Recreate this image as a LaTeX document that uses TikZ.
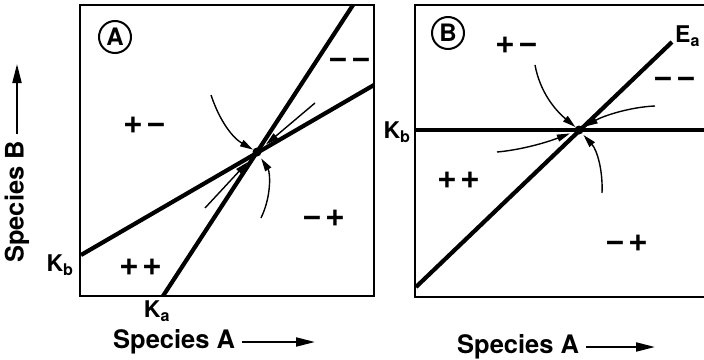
\documentclass[tikz,border=0pt]{standalone}
\usepackage{fontspec}
\setmainfont{TeX Gyre Heros}
\usetikzlibrary{arrows.meta,positioning}

\begin{document}
\begin{tikzpicture}[
  x=1pt, y=-1pt,
  frame/.style={line width=2pt},
  isocline/.style={line width=4.2pt},
  flow/.style={line width=1.4pt, -{Triangle[length=13pt,width=7pt]}},
  axis/.style={line width=2pt, -{Triangle[length=19pt,width=9pt]}},
  sign/.style={font=\fontsize{34}{34}\selectfont\bfseries, inner sep=0pt},
  klabel/.style={font=\fontsize{23}{23}\selectfont\bfseries, inner sep=0pt},
  title/.style={font=\fontsize{25.5}{26}\selectfont\bfseries, inner sep=0pt},
  eq/.style={circle, fill, inner sep=0pt, minimum size=9pt},
  panel/.style={draw, circle, line width=2pt, inner sep=0pt, minimum size=32pt,
    font=\fontsize{24}{24}\selectfont\bfseries}
]
\useasboundingbox (0,0) rectangle (704,359);

% panel A
\draw[frame] (80,5) rectangle (374,296);
\coordinate (KaA) at (163,296);
\coordinate (topA) at (353,5);
\coordinate (KbA) at (81,255);
\coordinate (rightA) at (374,85);
\draw[isocline] (KaA) -- (topA);
\draw[isocline] (KbA) -- (rightA);
\node[eq] (eqA) at (257,152) {};

\node[panel] (circA) at (115,37) {A};
\node[sign] (pmA) at (145,125) {+\kern3pt−};
\node[sign] (mmA) at (350,63) {−\kern3pt−};
\node[sign] (mpA) at (324,218) {−\kern3pt+};
\node[sign] (ppA) at (141,267) {+\kern3pt+};
\node[klabel] (kbA) at (60,265) {K\textsubscript{b}};
\node[klabel] (kaA) at (157,311) {K\textsubscript{a}};

\coordinate (a1) at (211,95);
\coordinate (a2) at (315,103);
\coordinate (a3) at (205,208);
\coordinate (a4) at (261,218);
\draw[flow] (a1) .. controls (220,122) and (233,138) .. (eqA);
\draw[flow, shorten >=7pt] (a2) -- (eqA);
\draw[flow, shorten >=9pt] (a3) -- (eqA);
\draw[flow, shorten >=3pt] (a4) .. controls (272,195) and (270,172) .. (eqA);

\node[title, anchor=west] (xA) at (113,342) {Species\hspace{7pt}A};
\coordinate (xAend) at (315,342);
\draw[axis, shorten <=7pt] (xA.east) -- (xAend);
\node[title, rotate=90] (yA) at (17,202) {Species\hspace{7pt}B};
\coordinate (yAend) at (17,64);
\draw[axis, shorten <=7pt] (yA.east) -- (yAend);

% panel B
\draw[frame] (704,5) -- (415,5) -- (415,297) -- (704,297);
\coordinate (KbB) at (415,130);
\coordinate (rightB) at (704,130);
\coordinate (lowB) at (416,287);
\coordinate (EaB) at (672,42);
\draw[isocline] (KbB) -- (rightB);
\draw[isocline] (lowB) -- (EaB);
\node[eq] (eqB) at (579,130) {};

\node[panel] (circB) at (448,33) {B};
\node[sign] (pmB) at (517,45) {+\kern3pt−};
\node[sign] (mmB) at (675,82) {−\kern3pt−};
\node[sign] (ppB) at (459,180) {+\kern3pt+};
\node[sign] (mpB) at (627,243) {−\kern3pt+};
\node[klabel] (kbB) at (397,132) {K\textsubscript{b}};
\node[klabel, anchor=west] (eaB) at (675,36) {E\textsubscript{a}};

\coordinate (b1) at (535,65);
\coordinate (b2) at (655,106);
\coordinate (b3) at (497,152);
\coordinate (b4) at (602,193);
\draw[flow] (b1) .. controls (540,92) and (555,110) .. (eqB);
\draw[flow, shorten >=2pt] (b2) .. controls (630,107) and (603,116) .. (eqB);
\draw[flow, shorten >=5pt] (b3) .. controls (520,150) and (545,143) .. (eqB);
\draw[flow, shorten >=2pt] (b4) .. controls (603,170) and (597,150) .. (eqB);

\node[title, anchor=west] (xB) at (457,347) {Species\hspace{7pt}A};
\coordinate (xBend) at (655,347);
\draw[axis, shorten <=7pt] (xB.east) -- (xBend);
\end{tikzpicture}
\end{document}
